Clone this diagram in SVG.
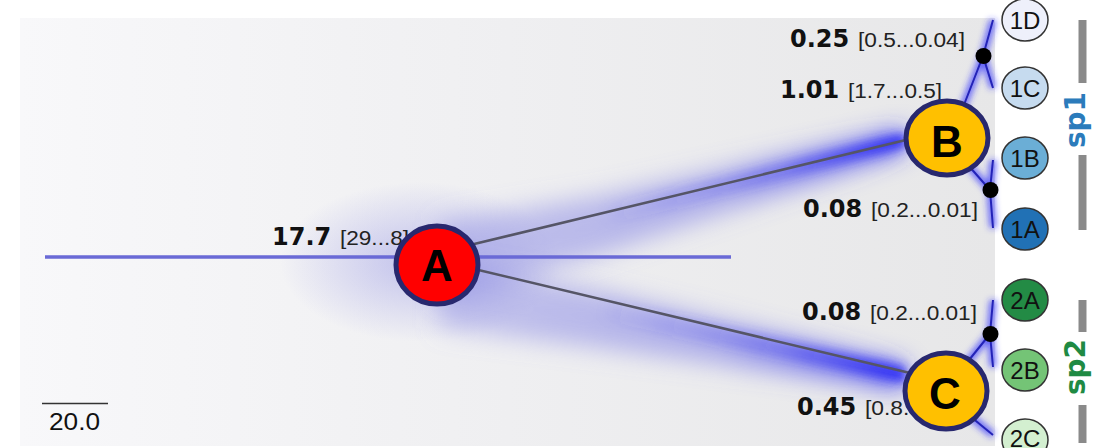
<svg xmlns="http://www.w3.org/2000/svg" width="1100" height="448" viewBox="0 0 1100 448">
<defs>
<linearGradient id="panel" x1="0" y1="0" x2="1" y2="0">
<stop offset="0" stop-color="#f8f8fa"/>
<stop offset="0.5" stop-color="#efeff1"/>
<stop offset="1" stop-color="#e7e7e8"/>
</linearGradient>
<linearGradient id="coneUp" gradientUnits="userSpaceOnUse" x1="440" y1="250" x2="905" y2="138">
<stop offset="0" stop-color="#9090e4" stop-opacity="0.45"/>
<stop offset="0.6" stop-color="#7a7ae6" stop-opacity="0.55"/>
<stop offset="0.9" stop-color="#4a4aee" stop-opacity="0.8"/>
<stop offset="1" stop-color="#2a2af5" stop-opacity="0.95"/>
</linearGradient>
<linearGradient id="coneDn" gradientUnits="userSpaceOnUse" x1="440" y1="265" x2="905" y2="375">
<stop offset="0" stop-color="#9090e4" stop-opacity="0.45"/>
<stop offset="0.6" stop-color="#7a7ae6" stop-opacity="0.55"/>
<stop offset="0.9" stop-color="#4a4aee" stop-opacity="0.8"/>
<stop offset="1" stop-color="#2a2af5" stop-opacity="0.95"/>
</linearGradient>
<linearGradient id="coreUp" gradientUnits="userSpaceOnUse" x1="600" y1="212" x2="905" y2="140">
<stop offset="0" stop-color="#3a3af0" stop-opacity="0"/>
<stop offset="0.6" stop-color="#3a3af0" stop-opacity="0.35"/>
<stop offset="1" stop-color="#2828f5" stop-opacity="0.9"/>
</linearGradient>
<linearGradient id="coreDn" gradientUnits="userSpaceOnUse" x1="600" y1="300" x2="905" y2="374">
<stop offset="0" stop-color="#3a3af0" stop-opacity="0"/>
<stop offset="0.6" stop-color="#3a3af0" stop-opacity="0.35"/>
<stop offset="1" stop-color="#2828f5" stop-opacity="0.9"/>
</linearGradient>
<radialGradient id="rootGlow" cx="0.5" cy="0.5" r="0.5">
<stop offset="0" stop-color="#9a9ae6" stop-opacity="0.55"/>
<stop offset="1" stop-color="#9a9ae6" stop-opacity="0"/>
</radialGradient>
<filter id="blur12" x="-50%" y="-50%" width="200%" height="200%"><feGaussianBlur stdDeviation="12"/></filter>
<filter id="blur5" x="-50%" y="-50%" width="200%" height="200%"><feGaussianBlur stdDeviation="5"/></filter>
<filter id="blur3" x="-50%" y="-50%" width="200%" height="200%"><feGaussianBlur stdDeviation="3"/></filter>
<style>
.bold{font-family:"DejaVu Sans",Verdana,sans-serif;font-weight:bold;font-size:24px;fill:#111}
.rng{font-family:"Liberation Sans",Arial,sans-serif;font-size:19.5px;fill:#222}
.trunk{stroke:#555566;stroke-width:2.5;fill:none;stroke-linecap:round}
.twig{stroke:#2323b8;stroke-width:2;fill:none}
.twigglow{stroke:#3030ff;stroke-width:7;fill:none;opacity:0.7}
.dot{fill:#000}
.inner{stroke:#28286e;stroke-width:5}
.ilbl{font-family:"Liberation Sans",Arial,sans-serif;font-weight:bold;font-size:44px;fill:#000;text-anchor:middle}
.leaf{stroke:#333;stroke-width:1.5}
.llbl{font-family:"Liberation Sans",Arial,sans-serif;font-size:24px;fill:#111;text-anchor:middle}
.bar{stroke:#8a8a8a;stroke-width:8}
.sp{font-family:"DejaVu Sans",Verdana,sans-serif;font-weight:bold;font-size:28px;text-anchor:middle}
</style>
</defs>
<rect width="1100" height="448" fill="#ffffff"/>
<rect x="20" y="18" width="975" height="428" fill="url(#panel)"/>
<g id="glow">
<ellipse cx="420" cy="262" rx="140" ry="80" fill="url(#rootGlow)"/>
<polygon points="440,222 600,196 905,130 905,150 600,255 440,302" fill="url(#coneUp)" filter="url(#blur12)"/>
<polygon points="440,260 600,290 905,366 905,388 600,348 440,328" fill="url(#coneDn)" filter="url(#blur12)"/>
<polygon points="600,205 905,133 905,147 600,228" fill="url(#coreUp)" filter="url(#blur5)"/>
<polygon points="600,296 905,367 905,383 600,320" fill="url(#coreDn)" filter="url(#blur5)"/>
<g filter="url(#blur3)">
<polyline class="twigglow" points="960,115 983,56 993,20"/>
<polyline class="twigglow" points="983,56 993,88"/>
<polyline class="twigglow" points="968,165 990,190 993,228"/>
<polyline class="twigglow" points="990,190 993,160"/>
<polyline class="twigglow" points="965,365 990,334 993,300"/>
<polyline class="twigglow" points="990,334 993,367"/>
<polyline class="twigglow" points="965,412 993,435"/>
</g>
</g>
<g id="connectors">
<line x1="45" y1="257" x2="731" y2="257" stroke="#6a6ad6" stroke-width="3.5"/>
<line class="trunk" x1="470" y1="245" x2="910" y2="139"/>
<line class="trunk" x1="470" y1="268" x2="910" y2="373"/>
<polyline class="twig" points="960,115 983,56 993,20"/>
<polyline class="twig" points="983,56 993,88"/>
<polyline class="twig" points="968,165 990,190 993,228"/>
<polyline class="twig" points="990,190 993,160"/>
<polyline class="twig" points="965,365 990,334 993,300"/>
<polyline class="twig" points="990,334 993,367"/>
<polyline class="twig" points="965,412 993,435"/>
<circle class="dot" cx="983.5" cy="56" r="8"/>
<circle class="dot" cx="990.5" cy="190" r="8"/>
<circle class="dot" cx="990.5" cy="334" r="8"/>
</g>
<g id="labels">
<text class="bold" x="272" y="245">17.7</text>
<text class="rng" x="340" y="245" textLength="69" lengthAdjust="spacingAndGlyphs">[29...8]</text>
<text class="bold" x="790" y="47">0.25</text>
<text class="rng" x="858" y="47" textLength="107" lengthAdjust="spacingAndGlyphs">[0.5...0.04]</text>
<text class="bold" x="780" y="98">1.01</text>
<text class="rng" x="848" y="98" textLength="94" lengthAdjust="spacingAndGlyphs">[1.7...0.5]</text>
<text class="bold" x="803" y="217">0.08</text>
<text class="rng" x="871" y="217" textLength="107" lengthAdjust="spacingAndGlyphs">[0.2...0.01]</text>
<text class="bold" x="802" y="320">0.08</text>
<text class="rng" x="870" y="320" textLength="107" lengthAdjust="spacingAndGlyphs">[0.2...0.01]</text>
<text class="bold" x="797" y="415">0.45</text>
<text class="rng" x="865" y="415" textLength="57" lengthAdjust="spacingAndGlyphs">[0.8...</text>
</g>
<g id="scale">
<line x1="42" y1="403.5" x2="108" y2="403.5" stroke="#333" stroke-width="1.5"/>
<text x="49" y="430" font-family="Liberation Sans, Arial, sans-serif" font-size="24" fill="#111" textLength="51" lengthAdjust="spacingAndGlyphs">20.0</text>
</g>
<g id="node-A">
<ellipse class="inner" cx="437" cy="265" rx="41" ry="39" fill="#ff0000"/>
<text class="ilbl" x="437" y="281">A</text>
</g>
<g id="node-B">
<ellipse class="inner" cx="947" cy="138" rx="41" ry="37" fill="#ffc000"/>
<text class="ilbl" x="947" y="157">B</text>
</g>
<g id="node-C">
<ellipse class="inner" cx="946" cy="391" rx="41" ry="38" fill="#ffc000"/>
<text class="ilbl" x="945" y="409">C</text>
</g>
<g id="leaf-1D"><ellipse class="leaf" cx="1025" cy="20" rx="23" ry="21" fill="#eef0fb"/><text class="llbl" x="1025" y="29">1D</text></g>
<g id="leaf-1C"><ellipse class="leaf" cx="1025" cy="88" rx="23" ry="21" fill="#c6dbef"/><text class="llbl" x="1025" y="97">1C</text></g>
<g id="leaf-1B"><ellipse class="leaf" cx="1025" cy="158" rx="23" ry="21" fill="#6baed6"/><text class="llbl" x="1025" y="167">1B</text></g>
<g id="leaf-1A"><ellipse class="leaf" cx="1025" cy="229" rx="23" ry="21" fill="#2171b5"/><text class="llbl" x="1025" y="238" fill="#0c2a55">1A</text></g>
<g id="leaf-2A"><ellipse class="leaf" cx="1025" cy="300" rx="23" ry="21" fill="#238b45"/><text class="llbl" x="1025" y="309">2A</text></g>
<g id="leaf-2B"><ellipse class="leaf" cx="1025" cy="370" rx="23" ry="21" fill="#74c476"/><text class="llbl" x="1025" y="379">2B</text></g>
<g id="leaf-2C"><ellipse class="leaf" cx="1025" cy="440" rx="23" ry="21" fill="#d3efd0"/><text class="llbl" x="1025" y="447">2C</text></g>
<g id="group-sp1">
<line class="bar" x1="1082.5" y1="20" x2="1082.5" y2="83"/>
<line class="bar" x1="1082.5" y1="155" x2="1082.5" y2="230"/>
<text class="sp" fill="#2b7bbb" transform="translate(1085,120) rotate(-90)">sp1</text>
</g>
<g id="group-sp2">
<line class="bar" x1="1082.5" y1="300" x2="1082.5" y2="332"/>
<line class="bar" x1="1082.5" y1="405" x2="1082.5" y2="443"/>
<text class="sp" fill="#1f8a43" transform="translate(1085,367) rotate(-90)">sp2</text>
</g>
</svg>
